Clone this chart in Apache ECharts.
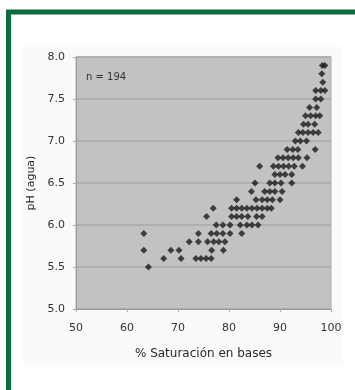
<!DOCTYPE html>
<html>
<head>
<meta charset="utf-8">
<script src="https://cdn.jsdelivr.net/npm/echarts@6/dist/echarts.min.js"></script>
<style>
  html, body { margin: 0; padding: 0; background: #ffffff; }
  #chart { width: 355px; height: 390px; }
</style>
</head>
<body>
<div id="chart"></div>
<script>
// Soil samples: base saturation (%) against pH measured in water.
// Each pH level lists the saturation values observed at that pH.
const ph79 = [98.3, 98.8];
const ph78 = [98.2];
const ph77 = [98.4];
const ph76 = [97.0, 98.0, 98.8];
const ph75 = [97.0, 98.0];
const ph74 = [95.8, 97.2];
const ph73 = [95.0, 96.0, 97.0, 97.8];
const ph72 = [94.6, 95.5, 96.8];
const ph71 = [93.6, 94.5, 95.5, 96.5, 97.5];
const ph70 = [93.0, 94.0, 95.2];
const ph69 = [91.4, 92.5, 93.5, 96.9];
const ph68 = [89.6, 90.6, 91.6, 92.6, 93.6, 95.3];
const ph67 = [86.0, 88.7, 89.7, 90.7, 91.7, 92.8, 94.4];
const ph66 = [89.0, 90.0, 91.0, 92.3];
const ph65 = [85.1, 88.0, 89.0, 90.2, 92.3];
const ph64 = [84.4, 87.0, 88.0, 89.0, 90.4];
const ph63 = [81.5, 85.3, 86.5, 87.5, 88.5, 90.0];
const ph62 = [76.9, 80.5, 81.5, 82.5, 83.5, 84.5, 85.5, 86.5, 87.5, 88.3];
const ph61 = [75.6, 80.5, 81.5, 82.5, 83.7, 85.4, 86.5];
const ph60 = [77.5, 78.8, 80.2, 82.2, 83.5, 84.5, 85.7];
const ph59 = [63.3, 74.0, 76.5, 77.6, 78.8, 80.2, 82.5];
const ph58 = [72.2, 74.0, 75.8, 77.0, 78.0, 79.2];
const ph57 = [63.3, 68.6, 70.2, 76.6, 78.9];
const ph56 = [67.2, 70.6, 73.5, 74.5, 75.5, 76.5];
const ph55 = [64.2];

const phLevels = [7.9, 7.8, 7.7, 7.6, 7.5, 7.4, 7.3, 7.2, 7.1, 7.0, 6.9, 6.8, 6.7,
                  6.6, 6.5, 6.4, 6.3, 6.2, 6.1, 6.0, 5.9, 5.8, 5.7, 5.6, 5.5];
const saturationByLevel = [ph79, ph78, ph77, ph76, ph75, ph74, ph73, ph72, ph71, ph70,
                           ph69, ph68, ph67, ph66, ph65, ph64, ph63, ph62, ph61, ph60,
                           ph59, ph58, ph57, ph56, ph55];

const sampleLabel = 'n = 194';
const xTitle = '% Saturación en bases';
const yTitle = 'pH (agua)';

const points = [];
phLevels.forEach((ph, i) => {
  saturationByLevel[i].forEach(sat => points.push([sat, ph]));
});

const font = 'DejaVu Sans, Liberation Sans, sans-serif';
const chart = echarts.init(document.getElementById('chart'), null, { renderer: 'canvas' });

chart.setOption({
  animation: false,
  backgroundColor: '#ffffff',
  grid: {
    left: 76, right: 24, top: 57, bottom: 81,
    show: true,
    backgroundColor: '#c2c2c2',
    borderColor: '#b0b0b0',
    borderWidth: 1
  },
  xAxis: {
    type: 'value',
    min: 50, max: 100, interval: 10,
    name: xTitle,
    nameLocation: 'middle',
    nameGap: 39,
    nameTextStyle: { fontFamily: font, fontSize: 12, color: '#2a2a2a' },
    axisLine: { show: true, lineStyle: { color: '#999999', width: 1 } },
    axisTick: { show: true, length: 3, lineStyle: { color: '#aaaaaa' } },
    axisLabel: { margin: 14, fontFamily: font, fontSize: 11, color: '#333333' },
    splitLine: { show: false }
  },
  yAxis: {
    type: 'value',
    min: 5, max: 8, interval: 0.5,
    name: yTitle,
    nameLocation: 'middle',
    nameRotate: 90,
    nameGap: 38,
    nameTextStyle: { fontFamily: font, fontSize: 11, color: '#2a2a2a' },
    axisLine: { show: true, lineStyle: { color: '#999999', width: 1 } },
    axisTick: { show: true, length: 3, lineStyle: { color: '#aaaaaa' } },
    axisLabel: {
      margin: 11, fontFamily: font, fontSize: 11, color: '#333333',
      formatter: v => v.toFixed(1)
    },
    splitLine: { show: true, lineStyle: { color: '#a9a9a9', width: 1.5 } }
  },
  graphic: [
    {
      type: 'rect', z: -10, silent: true,
      shape: { x: 23, y: 47, width: 320, height: 318 },
      style: { fill: '#fafafa' }
    },
    {
      type: 'rect', z: 100, silent: true,
      shape: { x: 8.5, y: 12, width: 420, height: 420 },
      style: { fill: 'none', stroke: '#0a6b3e', lineWidth: 5 }
    },
    {
      type: 'text', z: 50, silent: true,
      left: 86, top: 72,
      style: { text: sampleLabel, fontFamily: font, fontSize: 10, fill: '#333333' }
    }
  ],
  series: [{
    type: 'scatter',
    data: points,
    symbol: 'diamond',
    symbolSize: 7,
    itemStyle: { color: '#1c1c1c' }
  }]
});
</script>
</body>
</html>
